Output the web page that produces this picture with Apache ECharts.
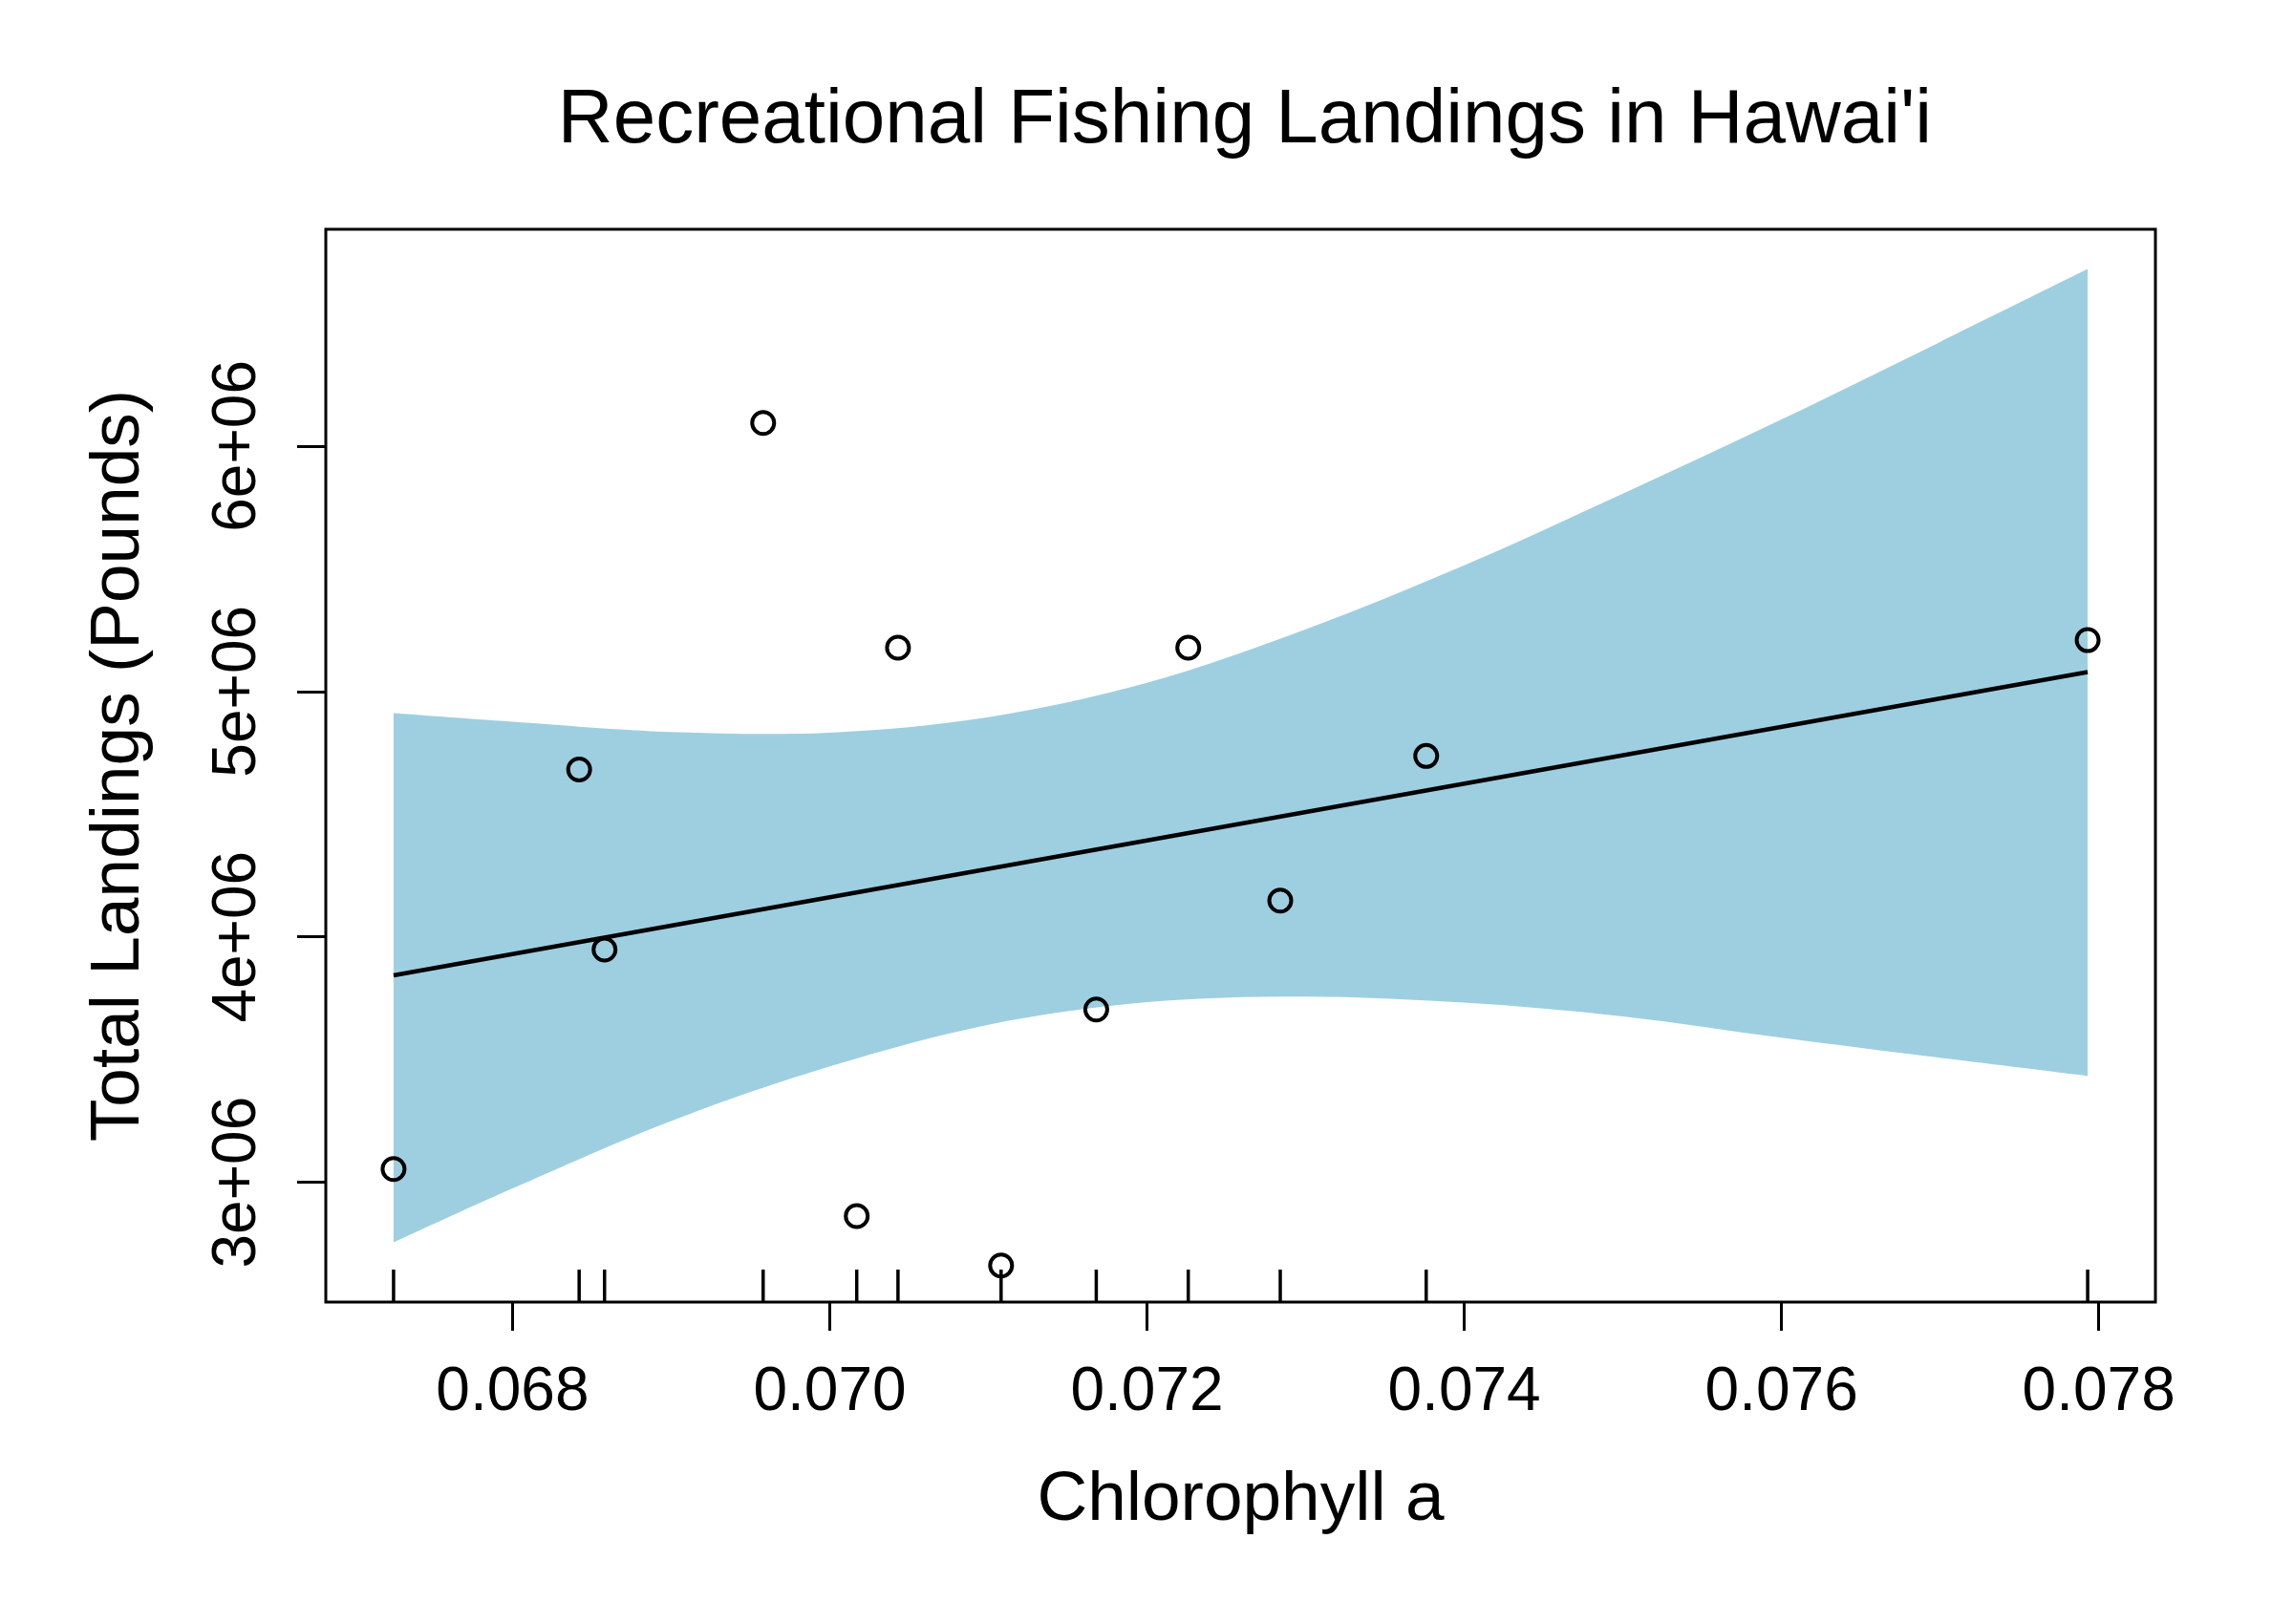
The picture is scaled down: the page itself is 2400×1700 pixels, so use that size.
<!DOCTYPE html>
<html>
<head>
<meta charset="utf-8">
<script src="https://cdn.jsdelivr.net/npm/echarts@6/dist/echarts.min.js"></script>
<style>
  html, body { margin: 0; padding: 0; background: #fff; }
  #chart { width: 2400px; height: 1700px; }
</style>
</head>
<body>
<div id="chart"></div>
<script>
// ---- Data ----
const chlorophyll = [0.06725, 0.06842, 0.06858, 0.06958, 0.07017, 0.07043, 0.07108, 0.07168, 0.07226, 0.07284, 0.07376, 0.07793];
const landings    = [3054000, 4682000, 3948000, 6094000, 2862000, 5178000, 2661000, 3704000, 5178000, 4148000, 4737000, 5209000];

const fitX = [0.06725, 0.07793];
const fitY = [3843000, 5079000];

const bandX     = [0.06725, 0.068, 0.069, 0.070, 0.071, 0.072, 0.073, 0.074, 0.075, 0.076, 0.077, 0.07793];
const bandUpper = [4912000, 4877000, 4835000, 4832000, 4895000, 5035000, 5253000, 5514000, 5806000, 6108000, 6424000, 6721000];
const bandLower = [2755000, 2975000, 3250000, 3472000, 3642000, 3734000, 3757000, 3732000, 3676000, 3589000, 3507000, 3433000];

const xTicks = [0.068, 0.070, 0.072, 0.074, 0.076, 0.078];
const yTicks = [3000000, 4000000, 5000000, 6000000];

const titleText = "Recreational Fishing Landings in Hawai'i";
const xTitle = "Chlorophyll a";
const yTitle = "Total Landings (Pounds)";

// ---- Axis ranges (R-style padded limits) ----
const xr = [Math.min(...chlorophyll), Math.max(...chlorophyll)];
const xPad = 0.04 * (xr[1] - xr[0]);
const X_MIN = xr[0] - xPad;
const X_MAX = xr[1] + xPad;
const Y_MIN = 2512000;
const Y_MAX = 6883000;

const FONT = "'Liberation Sans', Arial, Helvetica, sans-serif";

// Catmull-Rom -> cubic bezier path segments through pixel points (drawing only)
function splineSegments(pts) {
  let d = '';
  for (let i = 0; i < pts.length - 1; i++) {
    const p0 = pts[Math.max(0, i - 1)];
    const p1 = pts[i];
    const p2 = pts[i + 1];
    const p3 = pts[Math.min(pts.length - 1, i + 2)];
    const c1x = p1[0] + (p2[0] - p0[0]) / 6;
    const c1y = p1[1] + (p2[1] - p0[1]) / 6;
    const c2x = p2[0] - (p3[0] - p1[0]) / 6;
    const c2y = p2[1] - (p3[1] - p1[1]) / 6;
    d += ' C' + c1x + ' ' + c1y + ' ' + c2x + ' ' + c2y + ' ' + p2[0] + ' ' + p2[1];
  }
  return d;
}

const chart = echarts.init(document.getElementById('chart'), null, { renderer: 'canvas' });

const option = {
  backgroundColor: '#ffffff',
  animation: false,
  title: {
    text: titleText,
    left: 1298,
    top: 82,
    textAlign: 'center',
    textStyle: { fontFamily: FONT, fontSize: 80, fontWeight: 'normal', color: '#000' }
  },
  grid: {
    left: 341, top: 240, right: 144, bottom: 337,
    show: true, borderColor: '#000', borderWidth: 3, backgroundColor: 'transparent',
    containLabel: false, outerBoundsMode: 'none'
  },
  xAxis: {
    type: 'value',
    min: X_MIN, max: X_MAX,
    axisLine: { show: false },
    splitLine: { show: false },
    axisTick: { show: true, inside: false, length: 30, lineStyle: { color: '#000', width: 3 }, customValues: xTicks },
    axisLabel: {
      customValues: xTicks,
      formatter: v => v.toFixed(3),
      fontFamily: FONT, fontSize: 64, color: '#000', margin: 63
    },
    name: xTitle,
    nameLocation: 'middle',
    nameGap: 171,
    nameTextStyle: { fontFamily: FONT, fontSize: 73, color: '#000' }
  },
  yAxis: {
    type: 'value',
    min: Y_MIN, max: Y_MAX,
    axisLine: { show: false },
    splitLine: { show: false },
    axisTick: { show: true, inside: false, length: 30, lineStyle: { color: '#000', width: 3 }, customValues: yTicks },
    axisLabel: {
      customValues: yTicks,
      rotate: 90,
      formatter: v => (v / 1e6) + 'e+06',
      fontFamily: FONT, fontSize: 64, color: '#000', margin: 60
    },
    name: yTitle,
    nameLocation: 'middle',
    nameGap: 180,
    nameRotate: 90,
    nameTextStyle: { fontFamily: FONT, fontSize: 73, color: '#000' }
  },
  series: [
    {
      name: 'confidence band',
      type: 'custom',
      data: bandX.map((x, i) => [x, bandLower[i], bandUpper[i]]),
      encode: { x: 0, y: [1, 2] },
      silent: true,
      z: 1,
      renderItem: function (params, api) {
        if (params.dataIndex !== 0) return null;
        const up = bandX.map((x, i) => api.coord([x, bandUpper[i]]));
        const lo = bandX.map((x, i) => api.coord([x, bandLower[i]])).reverse();
        let d = 'M' + up[0][0] + ' ' + up[0][1];
        d += splineSegments(up);
        d += ' L' + lo[0][0] + ' ' + lo[0][1];
        d += splineSegments(lo);
        d += ' Z';
        return {
          type: 'path',
          shape: { pathData: d },
          style: { fill: '#9ecfe0', stroke: null }
        };
      }
    },
    {
      name: 'fit',
      type: 'line',
      data: fitX.map((x, i) => [x, fitY[i]]),
      showSymbol: false,
      symbol: 'none',
      lineStyle: { color: '#000', width: 4.5 },
      z: 3
    },
    {
      name: 'observed',
      type: 'scatter',
      data: chlorophyll.map((x, i) => [x, landings[i]]),
      symbol: 'circle',
      symbolSize: 23,
      itemStyle: { color: 'rgba(0,0,0,0)', borderColor: '#000', borderWidth: 4, opacity: 1 },
      z: 4
    },
    {
      name: 'rug',
      type: 'custom',
      data: chlorophyll.map(x => [x, Y_MIN]),
      encode: { x: 0, y: 1 },
      renderItem: function (params, api) {
        const p = api.coord([api.value(0), api.value(1)]);
        return {
          type: 'line',
          shape: { x1: p[0], y1: p[1], x2: p[0], y2: p[1] - 34 },
          style: { stroke: '#000', lineWidth: 3.5 }
        };
      },
      z: 5
    }
  ]
};

chart.setOption(option);
</script>
</body>
</html>
